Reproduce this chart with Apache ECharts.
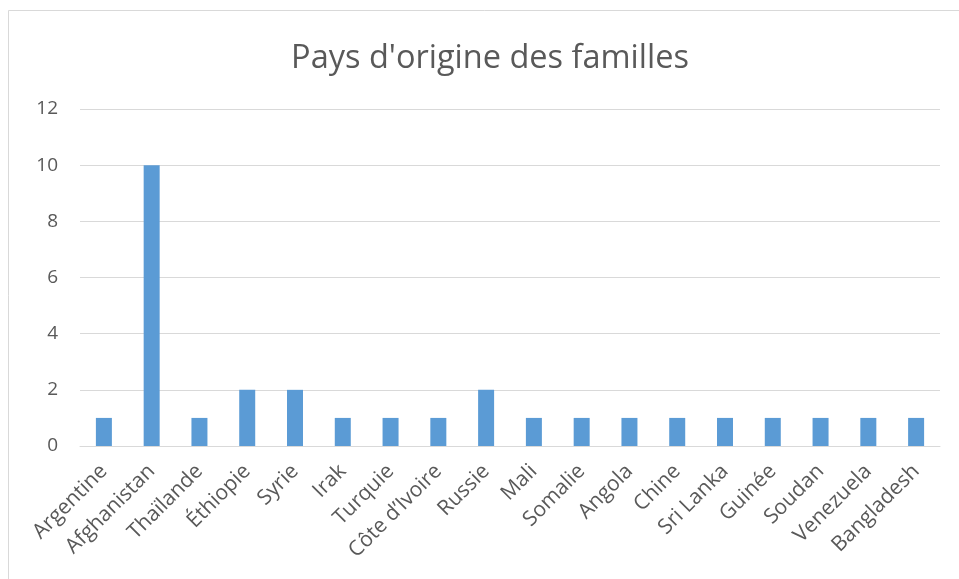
<!DOCTYPE html>
<html><head><meta charset="utf-8">
<script src="https://cdn.jsdelivr.net/npm/echarts@6/dist/echarts.min.js"></script>
<style>html,body{margin:0;padding:0;background:#fff}#c{width:959px;height:579px}</style>
</head><body><div id="c"></div>
<script>
const categories = ["Argentine","Afghanistan","Thaïlande","Éthiopie","Syrie","Irak","Turquie","Côte d’Ivoire","Russie","Mali","Somalie","Angola","Chine","Sri Lanka","Guinée","Soudan","Venezuela","Bangladesh"];
const values = [1,10,1,2,2,1,1,1,2,1,1,1,1,1,1,1,1,1];
const yTicks = {min:0, max:12, interval:2};
const titleText = "Pays d'origine des familles";

const chart = echarts.init(document.getElementById('c'), null, {renderer:'canvas'});
const font = "'Open Sans', 'Noto Sans', sans-serif";
chart.setOption({
  animation:false,
  backgroundColor:'#fff',
  graphic:[{type:'rect', shape:{x:8.5,y:10.5,width:1000,height:1000}, style:{fill:'none', stroke:'#d9d9d9', lineWidth:1}, silent:true}],
  title:{text:titleText, left:485, textAlign:'center', top:37, textStyle:{fontFamily:font, fontSize:32.5, fontWeight:'normal', color:'#595959'}},
  grid:{left:80, right:19, top:109, bottom:133, containLabel:false},
  xAxis:{type:'category', data:categories,
    axisLine:{lineStyle:{color:'#d9d9d9', width:1}}, axisTick:{show:false},
    axisLabel:{interval:0, rotate:45, color:'#595959', fontFamily:font, fontSize:21, margin:22}},
  yAxis:{type:'value', min:yTicks.min, max:yTicks.max, interval:yTicks.interval,
    axisLine:{show:false}, axisTick:{show:false},
    splitLine:{lineStyle:{color:'#d9d9d9', width:1}},
    axisLabel:{color:'#595959', fontFamily:font, fontSize:19, margin:22}},
  series:[{type:'bar', data:values, barWidth:16, itemStyle:{color:'#5B9BD5'}}]
});
</script></body></html>
